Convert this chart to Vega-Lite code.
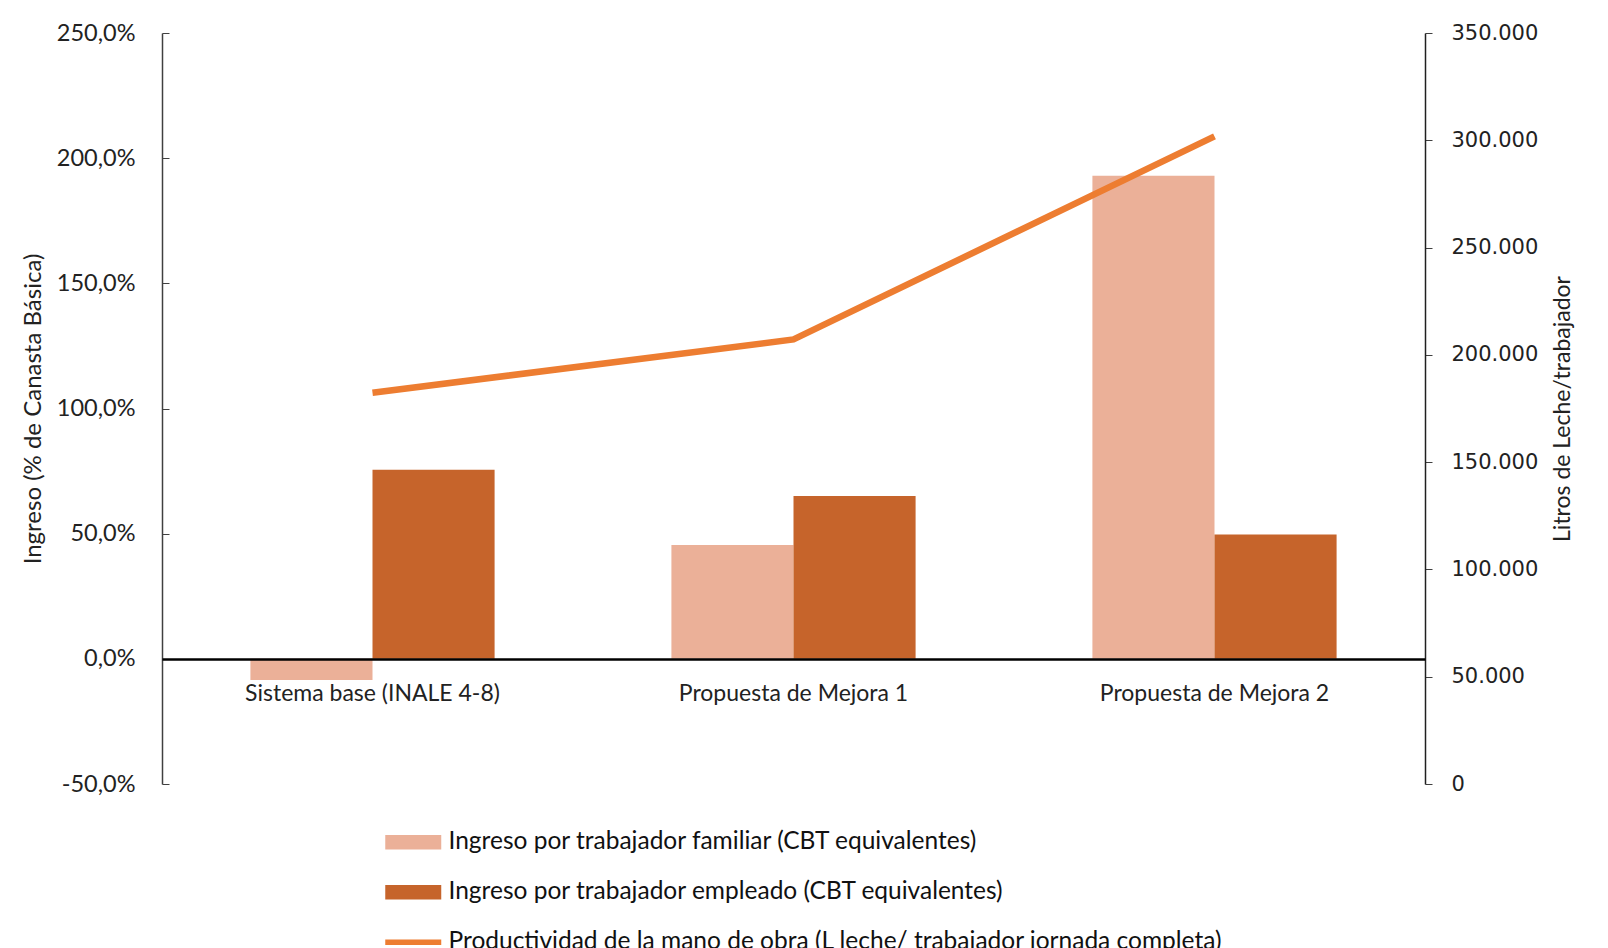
{
  "$schema": "https://vega.github.io/schema/vega-lite/v6.json",
  "width": 1263,
  "height": 751,
  "autosize": {"type": "none"},
  "padding": {"left": 162, "top": 33, "right": 183, "bottom": 164},
  "config": {
    "locale": {"number": {"decimal": ",", "thousands": ".", "grouping": [3], "currency": ["$", ""], "minus": "-"}},
    "view": {"stroke": null},
    "font": "Lato",
    "axis": {"grid": false}
  },
  "data": {
    "values": [
      {"escenario": "Sistema base (INALE 4-8)", "tipo": "barra", "serie": "Ingreso por trabajador familiar (CBT equivalentes)", "valor": -0.085},
      {"escenario": "Sistema base (INALE 4-8)", "tipo": "barra", "serie": "Ingreso por trabajador empleado (CBT equivalentes)", "valor": 0.755},
      {"escenario": "Propuesta de Mejora 1", "tipo": "barra", "serie": "Ingreso por trabajador familiar (CBT equivalentes)", "valor": 0.455},
      {"escenario": "Propuesta de Mejora 1", "tipo": "barra", "serie": "Ingreso por trabajador empleado (CBT equivalentes)", "valor": 0.65},
      {"escenario": "Propuesta de Mejora 2", "tipo": "barra", "serie": "Ingreso por trabajador familiar (CBT equivalentes)", "valor": 1.93},
      {"escenario": "Propuesta de Mejora 2", "tipo": "barra", "serie": "Ingreso por trabajador empleado (CBT equivalentes)", "valor": 0.497},
      {"escenario": "Sistema base (INALE 4-8)", "tipo": "linea", "serie": "Productividad de la mano de obra (L leche/ trabajador jornada completa)", "litros": 182300},
      {"escenario": "Propuesta de Mejora 1", "tipo": "linea", "serie": "Productividad de la mano de obra (L leche/ trabajador jornada completa)", "litros": 207200},
      {"escenario": "Propuesta de Mejora 2", "tipo": "linea", "serie": "Productividad de la mano de obra (L leche/ trabajador jornada completa)", "litros": 301800}
    ]
  },
  "encoding": {
    "x": {
      "field": "escenario",
      "type": "nominal",
      "sort": null,
      "scale": {"paddingInner": 0.42, "paddingOuter": 0.21},
      "axis": {
        "orient": "bottom",
        "offset": -125,
        "title": null,
        "labelAngle": 0,
        "ticks": false,
        "domain": true,
        "domainColor": "#000000",
        "domainWidth": 2.5,
        "labelFontSize": 23,
        "labelColor": "#222222",
        "labelPadding": 23,
        "labelLimit": 500,
        "zindex": 1
      }
    },
    "color": {
      "field": "serie",
      "type": "nominal",
      "sort": null,
      "scale": {
        "domain": [
          "Ingreso por trabajador familiar (CBT equivalentes)",
          "Ingreso por trabajador empleado (CBT equivalentes)",
          "Productividad de la mano de obra (L leche/ trabajador jornada completa)"
        ],
        "range": ["#EBB098", "#C6642B", "#ED7D31"]
      },
      "legend": {
        "title": null,
        "orient": "none",
        "legendX": 239,
        "legendY": 797,
        "direction": "vertical",
        "padding": 0,
        "symbolSize": 576,
        "symbolStrokeWidth": 0,
        "symbolOpacity": 1,
        "labelFontSize": 24.5,
        "labelColor": "#111111",
        "labelOffset": 23,
        "labelLimit": 1200,
        "rowPadding": 25,
        "encode": {
          "symbols": {
            "update": {
              "shape": {"signal": "substring(datum.value, 0, 4) == 'Prod' ? 'M-2.333,-0.22H2.333V0.22H-2.333Z' : 'M-2.333,-0.6H2.333V0.6H-2.333Z'"},
              "fill": {"scale": "color", "field": "value"},
              "stroke": {"value": "transparent"}
            }
          }
        }
      }
    }
  },
  "layer": [
    {
      "transform": [{"filter": "datum.tipo == 'barra'"}],
      "mark": {"type": "bar"},
      "encoding": {
        "xOffset": {"field": "serie", "type": "nominal", "sort": null, "scale": {"paddingInner": 0, "paddingOuter": 0}},
        "y": {
          "field": "valor",
          "type": "quantitative",
          "scale": {"domain": [-0.5, 2.5], "nice": false, "zero": false},
          "axis": {
            "orient": "left",
            "values": [-0.5, 0, 0.5, 1, 1.5, 2, 2.5],
            "format": ".1%",
            "title": "Ingreso (% de Canasta Básica)",
            "titleFontSize": 24,
            "titleFontWeight": "normal",
            "titleColor": "#222222",
            "titlePadding": 11,
            "labelFontSize": 23.5,
            "labelColor": "#222222",
            "labelPadding": 34,
            "tickSize": -7,
            "tickColor": "#404040",
            "domainColor": "#404040",
            "domainWidth": 1.5
          }
        }
      }
    },
    {
      "transform": [{"filter": "datum.tipo == 'linea'"}],
      "mark": {"type": "line", "strokeWidth": 6.5, "strokeCap": "butt"},
      "encoding": {
        "y": {
          "field": "litros",
          "type": "quantitative",
          "scale": {"domain": [0, 350000], "nice": false},
          "axis": {
            "orient": "right",
            "values": [0, 50000, 100000, 150000, 200000, 250000, 300000, 350000],
            "format": ",d",
            "title": "Litros de Leche/trabajador",
            "titleAngle": 270,
            "titleFontSize": 23,
            "titleFontWeight": "normal",
            "titleColor": "#222222",
            "titlePadding": 37,
            "labelFont": "DejaVu Sans",
            "labelFontSize": 21,
            "labelColor": "#222222",
            "labelPadding": 19,
            "tickSize": 7,
            "tickColor": "#404040",
            "domainColor": "#202020",
            "domainWidth": 1.5
          }
        }
      }
    }
  ],
  "resolve": {"scale": {"y": "independent"}}
}
